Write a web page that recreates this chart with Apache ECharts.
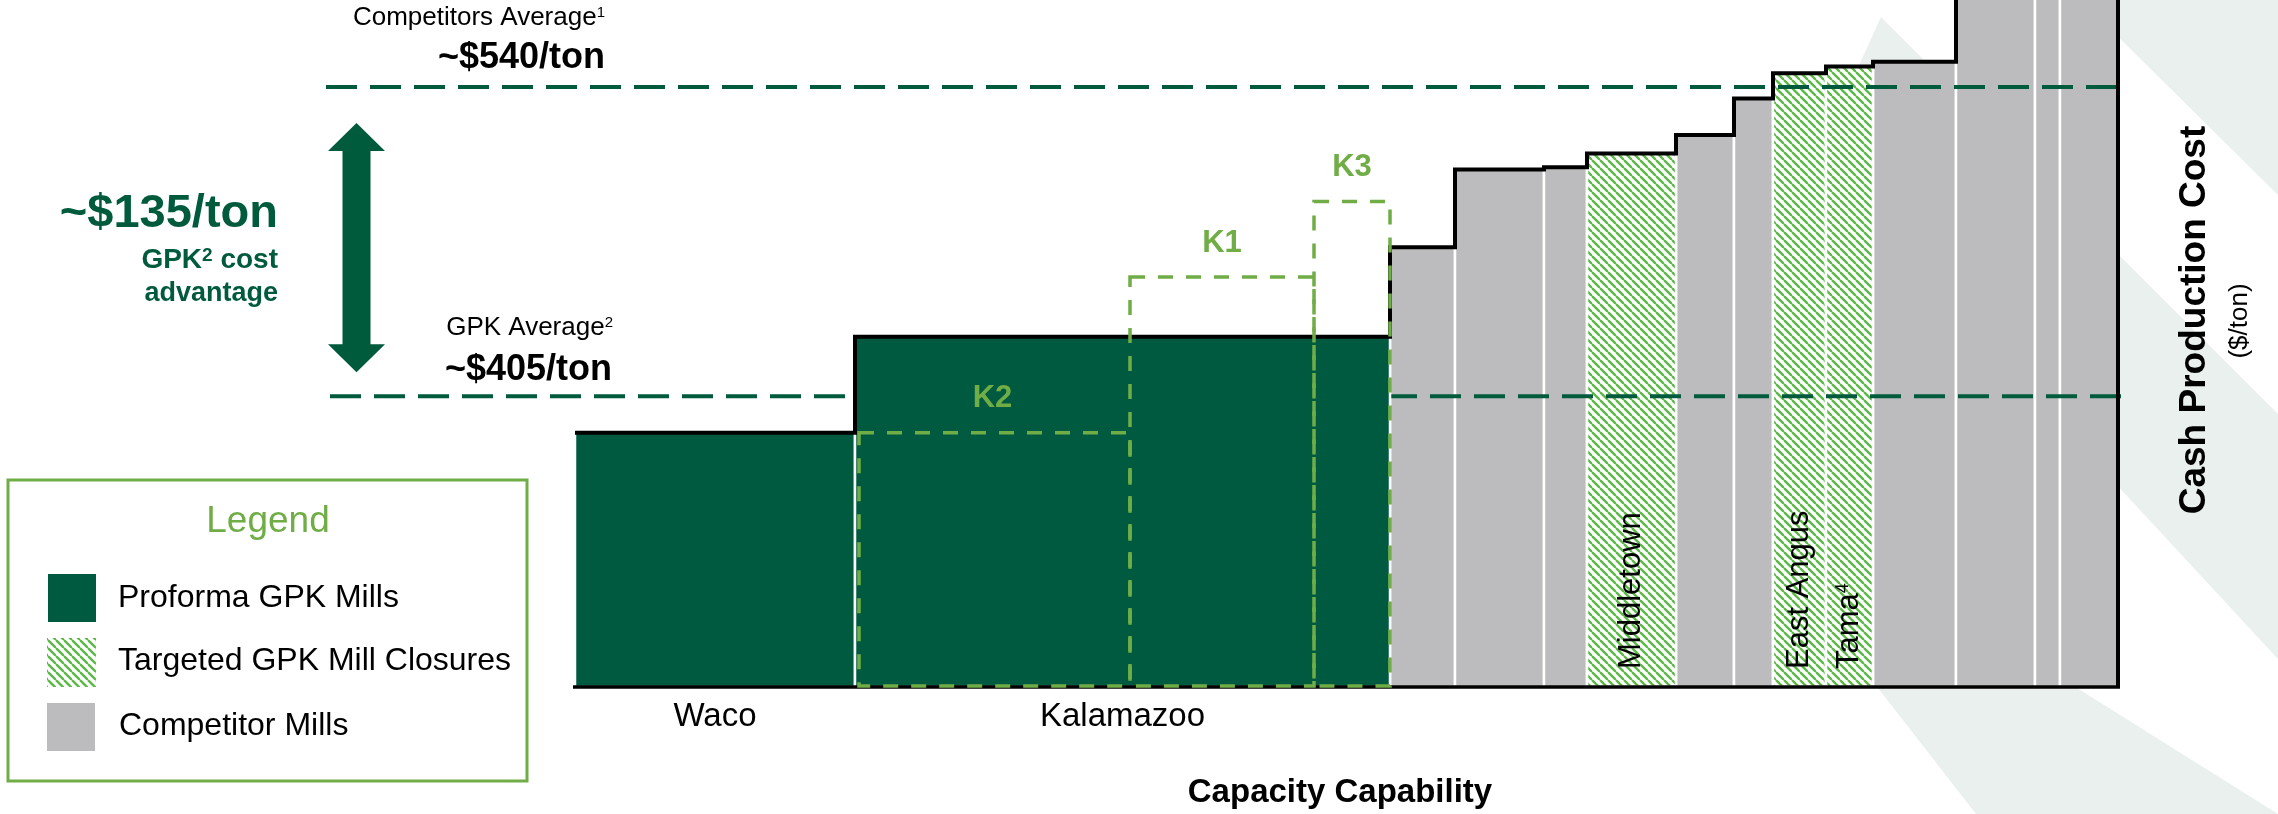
<!DOCTYPE html>
<html><head><meta charset="utf-8">
<script src="https://cdn.jsdelivr.net/npm/echarts@6/dist/echarts.min.js"></script>
<style>html,body{margin:0;padding:0;background:#fff}#chart{width:2278px;height:814px}</style>
</head><body><div id="chart"></div>
<script>
// ---------------- data ----------------
const gpkMills = ['Waco', 'Kalamazoo'];
const gpkCapacity = [280, 535];
const gpkCost = [389, 431];

const kMachines = ['K2', 'K1', 'K3'];
const kCapacity = [275, 184, 76];
const kCost = [389, 457, 490];

const curveMills = ['', '', '', 'Middletown', '', '', 'East Angus', 'Tama', '', '', '', ''];
const curveNotes = ['', '', '', '', '', '', '', '4', '', '', '', ''];
const curveClosure = [false, false, false, true, false, false, true, true, false, false, false, false];
const curveCapacity = [65, 89, 43, 89, 58, 39, 53, 47, 83, 79, 25, 58];
const curveCost = [470, 504, 505, 511, 519, 535, 546, 549, 551, 600, 610, 620];

const competitorsAverage = 540;
const gpkAverage = 405;
const costAdvantage = 135;

const legendLabels = ['Proforma GPK Mills', 'Targeted GPK Mill Closures', 'Competitor Mills'];
const xAxisTitle = 'Capacity Capability';
const yAxisTitle = 'Cash Production Cost';
const yAxisUnit = '($/ton)';

// ---------------- build ----------------
const Y_MIN = 278, Y_MAX = 578;
const FONT = '"Liberation Sans", Arial, sans-serif';
const DARK = '#005a3f', GRAY = '#bcbbbd', LGREEN = '#70ad47', LINEGREEN = '#005a3c';

let cum = 0;
const gpkData = gpkCapacity.map((w, i) => { const d = [cum, w, gpkCost[i], i]; cum += w; return d; });
const compData = [], closureData = [];
curveCapacity.forEach((w, i) => {
  const d = [cum, w, curveCost[i], i];
  (curveClosure[i] ? closureData : compData).push(d);
  cum += w;
});
const totalCap = cum;
let kc = gpkCapacity[0];
const kData = kCapacity.map((w, i) => { const d = [kc, w, kCost[i], i]; kc += w; return d; });

function makeHatch(size, color, lw) {
  const c = document.createElement('canvas');
  c.width = c.height = size;
  const g = c.getContext('2d');
  g.fillStyle = '#fff'; g.fillRect(0, 0, size, size);
  g.strokeStyle = color; g.lineWidth = lw;
  for (let k = -1; k <= 1; k++) {
    g.beginPath(); g.moveTo(k * size, 0); g.lineTo(k * size + size, size); g.stroke();
  }
  return c;
}
const hatchCanvas = makeHatch(8, '#5cb946', 2.4);
const hatch = { image: hatchCanvas, repeat: 'repeat' };

function txt(text, x, y, size, opts) {
  opts = opts || {};
  const supSize = Math.round(size * (opts.supScale || 0.58));
  return {
    type: 'text', x: x, y: y, rotation: opts.rotation || 0, z2: 10,
    style: {
      text: text, x: 0, y: 0,
      fill: opts.fill || '#000',
      fontSize: size, fontFamily: FONT, fontWeight: opts.bold ? 'bold' : 'normal',
      align: opts.align || 'center', textAlign: opts.align || 'center',
      verticalAlign: 'middle', textVerticalAlign: 'middle',
      rich: { sup: { fontSize: supSize, fontFamily: FONT, fontWeight: opts.bold ? 'bold' : 'normal', fill: opts.fill || '#000', verticalAlign: 'top' } }
    }
  };
}

function barRect(api, fill) {
  const x0 = api.value(0), w = api.value(1), c = Math.min(api.value(2), Y_MAX + 12);
  const tl = api.coord([x0, c]), br = api.coord([x0 + w, Y_MIN]);
  return { type: 'rect', shape: { x: tl[0], y: tl[1], width: br[0] - tl[0], height: br[1] - tl[1] },
    style: { fill: fill, stroke: '#fff', lineWidth: 2.5 } };
}

function renderCompetitor(params, api) { return barRect(api, GRAY); }

function renderClosure(params, api) {
  const r = barRect(api, hatch);
  const i = api.value(3);
  const cx = r.shape.x + r.shape.width / 2;
  const by = r.shape.y + r.shape.height;
  const note = curveNotes[i] ? '{sup|' + curveNotes[i] + '}' : '';
  return { type: 'group', children: [r,
    txt(curveMills[i] + note, cx, by - 18, 31, { align: 'left', rotation: Math.PI / 2 })] };
}

function renderGpk(params, api) {
  const r = barRect(api, DARK);
  const i = api.value(3);
  const cx = r.shape.x + r.shape.width / 2;
  const by = r.shape.y + r.shape.height;
  return { type: 'group', children: [r, txt(gpkMills[i], cx, by + 30, 33)] };
}

function renderOutline(params, api) {
  const pts = [];
  let x = 0;
  const steps = gpkCapacity.map((w, i) => [w, gpkCost[i]]).concat(curveCapacity.map((w, i) => [w, curveCost[i]]));
  steps.forEach(s => {
    const c = Math.min(s[1], Y_MAX + 12);
    pts.push(api.coord([x, c])); pts.push(api.coord([x + s[0], c]));
    x += s[0];
  });
  const end = api.coord([x, Y_MIN]);
  pts.push(end);
  const b0 = api.coord([0, Y_MIN]);
  return { type: 'group', children: [
    { type: 'polyline', shape: { points: pts }, style: { stroke: '#000', lineWidth: 4, fill: null, lineJoin: 'miter' } },
    { type: 'line', shape: { x1: b0[0] - 2, y1: b0[1], x2: end[0] + 2, y2: b0[1] }, style: { stroke: '#000', lineWidth: 3.5 } }
  ] };
}

function renderK(params, api) {
  const x0 = api.value(0), w = api.value(1), c = api.value(2), i = api.value(3);
  const tl = api.coord([x0, c]), br = api.coord([x0 + w, Y_MIN]);
  const inset = i === 0 ? 4 : 0;
  return { type: 'group', children: [
    { type: 'rect', shape: { x: tl[0] + inset, y: tl[1], width: br[0] - tl[0] - inset, height: br[1] - tl[1] - 1 },
      style: { fill: null, stroke: LGREEN, lineWidth: 3.5, lineDash: [15, 13] } },
    txt(kMachines[i], (tl[0] + br[0]) / 2, tl[1] - 34, 31, { bold: true, fill: LGREEN })
  ] };
}

function renderAverages(params, api) {
  const comp = api.value(0), gpk = api.value(1), adv = api.value(2);
  const pc = api.coord([0, comp]), pg = api.coord([0, gpk]);
  const left = pc[0], right = api.coord([totalCap, comp])[0];
  const yc = pc[1], yg = pg[1];
  const dash = { stroke: LINEGREEN, lineWidth: 4, lineDash: [31, 13], fill: null };
  const ax = left - 218.5;
  const arrow = [[ax, yc + 36], [ax + 28.5, yc + 64], [ax + 14, yc + 64], [ax + 14, yg - 52], [ax + 28.5, yg - 52],
    [ax, yg - 24], [ax - 28.5, yg - 52], [ax - 14, yg - 52], [ax - 14, yc + 64], [ax - 28.5, yc + 64]];
  const mid = (yc + yg) / 2;
  return { type: 'group', children: [
    { type: 'line', shape: { x1: left - 249, y1: yc, x2: right, y2: yc }, style: dash },
    { type: 'line', shape: { x1: left - 245, y1: yg, x2: right + 3, y2: yg }, style: dash },
    { type: 'polygon', shape: { points: arrow }, style: { fill: LINEGREEN } },
    txt('Competitors Average{sup|1}', left + 30, yc - 69, 26, { align: 'right' }),
    txt('~$' + comp + '/ton', left + 30, yc - 29, 36, { align: 'right', bold: true }),
    txt('GPK Average{sup|2}', left + 38, yg - 68, 26, { align: 'right' }),
    txt('~$' + gpk + '/ton', left + 37, yg - 26, 36, { align: 'right', bold: true }),
    txt('~$' + adv + '/ton', left - 297, mid - 28, 47, { align: 'right', bold: true, fill: LINEGREEN }),
    txt('GPK{sup|2} cost', left - 297, mid + 19, 28, { align: 'right', bold: true, fill: LINEGREEN, supScale: 0.68 }),
    txt('advantage', left - 297, mid + 52, 27, { align: 'right', bold: true, fill: LINEGREEN })
  ] };
}

const decor = '#e9f0ed';
const graphics = [
  { type: 'polygon', z: -10, shape: { points: [[2081, 0], [2278, 0], [2278, 195]] }, style: { fill: decor } },
  { type: 'polygon', z: -10, shape: { points: [[1881, 17], [2278, 414], [2278, 659], [1816, 160]] }, style: { fill: decor } },
  { type: 'polygon', z: -10, shape: { points: [[1878, 688], [2077, 688], [2278, 814], [1976, 814]] }, style: { fill: decor } },
  // legend
  { type: 'rect', z: 50, shape: { x: 8, y: 480, width: 519, height: 301 }, style: { fill: 'rgba(255,255,255,0)', stroke: LGREEN, lineWidth: 3 } },
  { type: 'text', z: 50, style: { text: 'Legend', x: 268, y: 522, fill: LGREEN, font: '37px ' + FONT, textAlign: 'center', align: 'center', textVerticalAlign: 'middle', verticalAlign: 'middle' } },
  { type: 'rect', z: 50, shape: { x: 48, y: 574, width: 48, height: 48 }, style: { fill: DARK } },
  { type: 'rect', z: 50, shape: { x: 47, y: 638, width: 49, height: 49 }, style: { fill: hatch } },
  { type: 'rect', z: 50, shape: { x: 47, y: 703, width: 48, height: 48 }, style: { fill: GRAY } },
  { type: 'text', z: 50, style: { text: legendLabels[0], x: 118, y: 598, fill: '#000', font: '32px ' + FONT, textVerticalAlign: 'middle', verticalAlign: 'middle' } },
  { type: 'text', z: 50, style: { text: legendLabels[1], x: 118, y: 661, fill: '#000', font: '32px ' + FONT, textVerticalAlign: 'middle', verticalAlign: 'middle' } },
  { type: 'text', z: 50, style: { text: legendLabels[2], x: 119, y: 726, fill: '#000', font: '32px ' + FONT, textVerticalAlign: 'middle', verticalAlign: 'middle' } },
  // axis titles
  { type: 'text', z: 50, style: { text: xAxisTitle, x: 1340, y: 793, fill: '#000', font: 'bold 33px ' + FONT, textAlign: 'center', align: 'center', textVerticalAlign: 'middle', verticalAlign: 'middle' } },
  { type: 'text', z: 50, x: 2195, y: 320, rotation: Math.PI / 2, style: { text: yAxisTitle, x: 0, y: 0, fill: '#000', font: 'bold 37px ' + FONT, textAlign: 'center', align: 'center', textVerticalAlign: 'middle', verticalAlign: 'middle' } },
  { type: 'text', z: 50, x: 2240, y: 321, rotation: Math.PI / 2, style: { text: yAxisUnit, x: 0, y: 0, fill: '#000', font: '26px ' + FONT, textAlign: 'center', align: 'center', textVerticalAlign: 'middle', verticalAlign: 'middle' } }
];

const chart = echarts.init(document.getElementById('chart'), null, { renderer: 'canvas' });
chart.setOption({
  backgroundColor: '#fff',
  animation: false,
  grid: { left: 575, right: 160, top: 0, bottom: 127 },
  xAxis: { type: 'value', min: 0, max: totalCap, show: false },
  yAxis: { type: 'value', min: Y_MIN, max: Y_MAX, show: false },
  graphic: graphics,
  series: [
    { name: legendLabels[2], type: 'custom', z: 2, silent: true, clip: false, renderItem: renderCompetitor, data: compData },
    { name: legendLabels[1], type: 'custom', z: 2, silent: true, clip: false, renderItem: renderClosure, data: closureData },
    { name: 'Averages', type: 'custom', z: 3, silent: true, clip: false, renderItem: renderAverages, data: [[competitorsAverage, gpkAverage, costAdvantage]] },
    { name: legendLabels[0], type: 'custom', z: 4, silent: true, clip: false, renderItem: renderGpk, data: gpkData },
    { name: 'Outline', type: 'custom', z: 5, silent: true, clip: false, renderItem: renderOutline, data: [[0]] },
    { name: 'Kalamazoo machines', type: 'custom', z: 6, silent: true, clip: false, renderItem: renderK, data: kData }
  ]
});
</script></body></html>
